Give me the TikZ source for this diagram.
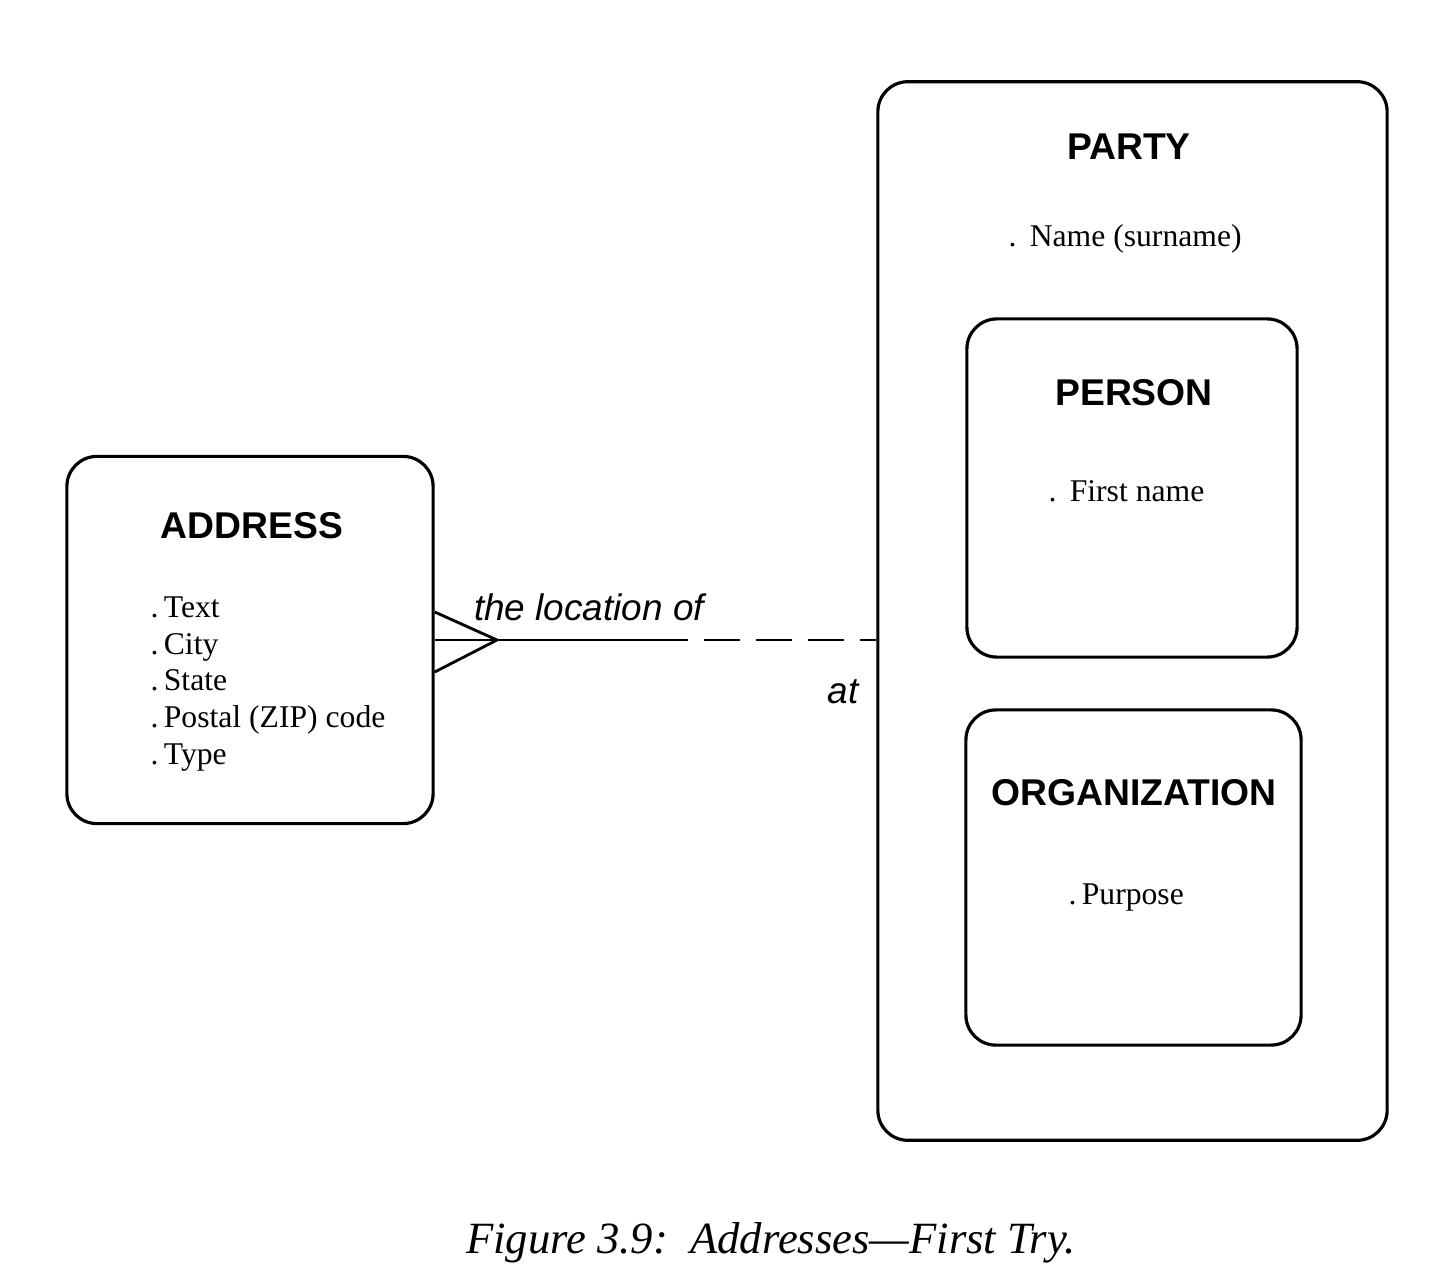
\documentclass[tikz,border=0pt]{standalone}
\usepackage{fontspec}
\setmainfont{Liberation Serif}
\newfontfamily\headfont{Liberation Sans}
\tikzset{
	entity/.style = {draw, rectangle, rounded corners=0.3cm, line width=0.9pt, inner sep=0pt},
	title/.style  = {font=\headfont\bfseries\fontsize{10.6}{12}\selectfont, inner sep=0pt},
	attr/.style   = {font=\fontsize{9}{10.5}\selectfont, align=left, anchor=west, inner sep=0pt},
	role/.style   = {font=\headfont\itshape\fontsize{10.5}{12}\selectfont, inner sep=0pt},
	link/.style   = {line width=0.8pt}
}
\begin{document}
\begin{tikzpicture}[x=0.01cm, y=-0.01cm]
    \useasboundingbox (0,0) rectangle (1448,1276);
    % the entity boxes
    \node [entity, minimum width=3.66cm, minimum height=3.67cm] (address) at (250,640) {};
    \node [entity, minimum width=5.09cm, minimum height=10.58cm] (party) at (1132.5,611) {};
    \node [entity, minimum width=3.30cm, minimum height=3.38cm] (person) at (1132,488) {};
    \node [entity, minimum width=3.35cm, minimum height=3.35cm] (organization) at (1133.5,877.5) {};

    % names and attributes
    \node [title] (addresstitle) at (252,526) {ADDRESS};
    \node [attr] (addressattr) at (150,684) {.\,Text\\.\,City\\.\,State\\.\,Postal (ZIP) code\\.\,Type};
    \node [title] (partytitle) at (1129,147) {PARTY};
    \node [attr] (partyattr) at (1008,239) {.\ \,Name (surname)};
    \node [title] (persontitle) at (1134,393) {PERSON};
    \node [attr] (personattr) at (1048,491) {.\ \,First name};
    \node [title] (orgtitle) at (1134,793) {ORGANIZATION};
    \node [attr] (orgattr) at (1068,898) {.\,Purpose};

    % the relationship, many end at the address
    \coordinate (foot) at (497,640);
    \coordinate (half) at (688,640);
    \draw [link] ([yshift=0.28cm]address.east) -- (foot) -- ([yshift=-0.32cm]address.east);
    \draw [link] (address.east) -- (foot) -- (half);
    \draw [link, dash pattern=on 0.36cm off 0.16cm, dash phase=0.36cm] (half) -- (half -| party.west);
    \node [role] (locof) at (589,607) {the location of};
    \node [role] (at) at (843,692) {at};

    % caption
    \node [font=\itshape\fontsize{12.7}{14}\selectfont, inner sep=0pt] (caption) at (771,1243)
        {Figure 3.9:\ \ Addresses---First Try.};
\end{tikzpicture}
\end{document}
